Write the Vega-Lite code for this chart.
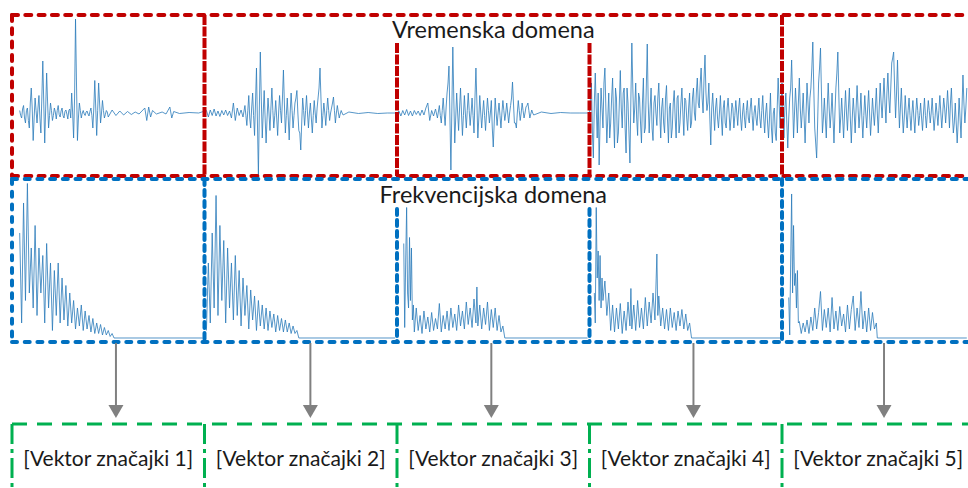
{
"$schema":"https://vega.github.io/schema/vega-lite/v6.json",
"width":968,"height":488,
"autosize":{"type":"fit","contains":"padding"},
"padding":0,
"background":"white",
"config":{"view":{"stroke":null}},
"datasets":{
"time":[
{"t":4,"a":0.05},{"t":5,"a":-0.1},{"t":6,"a":0.15},{"t":7,"a":-0.2},{"t":8,"a":0.1},{"t":9,"a":-0.3},{"t":10,"a":0.5},{"t":11,"a":-0.55},{"t":12,"a":0.3},{"t":13,"a":-0.2},{"t":14,"a":0.35},{"t":15,"a":-0.4},{"t":16,"a":1.04},{"t":17,"a":-0.6},{"t":18,"a":0.8},{"t":19,"a":-0.3},{"t":20,"a":0.2},{"t":21,"a":-0.15},{"t":22,"a":0.1},{"t":23,"a":-0.12},{"t":24,"a":0.15},{"t":25,"a":-0.08},{"t":26,"a":0.1},{"t":27,"a":-0.1},{"t":28,"a":0.06},{"t":29,"a":-0.12},{"t":30,"a":0.08},{"t":31,"a":0.4},{"t":32,"a":-0.5},{"t":33,"a":1.88},{"t":34,"a":-0.55},{"t":35,"a":0.2},{"t":36,"a":-0.1},{"t":37,"a":0.05},{"t":38,"a":-0.05},{"t":39,"a":0.04},{"t":40,"a":-0.06},{"t":41,"a":0.1},{"t":42,"a":-0.3},{"t":43,"a":0.65},{"t":44,"a":-0.45},{"t":45,"a":0.6},{"t":46,"a":-0.2},{"t":47,"a":0.25},{"t":48,"a":-0.1},{"t":49,"a":0.05},{"t":50,"a":-0.08},{"t":52,"a":0.06},{"t":54,"a":-0.05},{"t":56,"a":0.04},{"t":58,"a":-0.04},{"t":60,"a":0.03},{"t":62,"a":-0.03},{"t":64,"a":0.02},{"t":66,"a":-0.02},{"t":69,"a":0.1},{"t":70,"a":-0.15},{"t":71,"a":0.12},{"t":72,"a":-0.08},{"t":73,"a":0.05},{"t":75,"a":-0.02},{"t":78,"a":0.02},{"t":80,"a":-0.02},{"t":82,"a":0.12},{"t":83,"a":-0.1},{"t":84,"a":0.03},{"t":87,"a":-0.01},{"t":92,"a":0.01},{"t":97,"a":0},
{"t":4.5,"a":-0.05},{"t":5.5,"a":0.08},{"t":6.5,"a":-0.1},{"t":7.5,"a":0.05},{"t":8.5,"a":-0.15},{"t":9.5,"a":0.2},{"t":10.5,"a":0.1},{"t":11.5,"a":-0.1},{"t":12.5,"a":0.05},{"t":13.5,"a":0.1},{"t":14.5,"a":-0.1},{"t":15.5,"a":0.3},{"t":16.5,"a":0.2},{"t":17.5,"a":0.1},{"t":18.5,"a":0.2},{"t":19.5,"a":-0.05},{"t":20.5,"a":0.05},{"t":21.5,"a":-0.05},{"t":22.5,"a":0.02},{"t":23.5,"a":0.05},{"t":24.5,"a":-0.03},{"t":25.5,"a":0.04},{"t":26.5,"a":-0.05},{"t":27.5,"a":0.03},{"t":28.5,"a":-0.02},{"t":29.5,"a":0.05},{"t":30.5,"a":-0.1},{"t":31.5,"a":0},{"t":32.5,"a":0.3},{"t":33.5,"a":0.6},{"t":34.5,"a":-0.1},{"t":35.5,"a":0.05},{"t":36.5,"a":0},{"t":37.5,"a":-0.02},{"t":38.5,"a":0.02},{"t":39.5,"a":-0.02},{"t":40.5,"a":0.03},{"t":41.5,"a":-0.05},{"t":42.5,"a":0.1},{"t":43.5,"a":0.1},{"t":44.5,"a":0.05},{"t":45.5,"a":0.2},{"t":46.5,"a":0},{"t":47.5,"a":0.05},{"t":48.5,"a":-0.03},{"t":49.5,"a":0.02},
{"t":101,"a":0.05},{"t":102,"a":-0.08},{"t":103,"a":0.06},{"t":104,"a":-0.05},{"t":105,"a":0.08},{"t":106,"a":-0.06},{"t":107,"a":0.04},{"t":108,"a":-0.07},{"t":109,"a":0.05},{"t":110,"a":-0.04},{"t":111,"a":0.06},{"t":112,"a":-0.05},{"t":113,"a":0.04},{"t":114,"a":-0.1},{"t":115,"a":0.2},{"t":116,"a":-0.15},{"t":117,"a":0.1},{"t":118,"a":-0.05},{"t":119,"a":0.06},{"t":120,"a":-0.08},{"t":121,"a":0.15},{"t":122,"a":-0.25},{"t":123,"a":0.35},{"t":124,"a":-0.3},{"t":125,"a":0.4},{"t":126,"a":-0.45},{"t":127,"a":0.9},{"t":128,"a":-1.24},{"t":129,"a":1.22},{"t":130,"a":-0.5},{"t":131,"a":0.45},{"t":132,"a":-0.6},{"t":133,"a":0.3},{"t":134,"a":-0.35},{"t":135,"a":0.5},{"t":136,"a":-0.3},{"t":137,"a":0.25},{"t":138,"a":-0.45},{"t":139,"a":0.35},{"t":140,"a":-0.2},{"t":141,"a":0.86},{"t":142,"a":-0.4},{"t":143,"a":0.3},{"t":144,"a":-0.54},{"t":145,"a":0.4},{"t":146,"a":-0.3},{"t":147,"a":0.2},{"t":148,"a":0.45},{"t":149,"a":-0.35},{"t":150,"a":-0.74},{"t":151,"a":0.3},{"t":152,"a":-0.25},{"t":153,"a":0.35},{"t":154,"a":-0.3},{"t":155,"a":0.2},{"t":156,"a":-0.4},{"t":157,"a":0.25},{"t":158,"a":-0.2},{"t":159,"a":0.3},{"t":160,"a":0.9},{"t":161,"a":-0.3},{"t":162,"a":0.2},{"t":163,"a":-0.25},{"t":164,"a":0.3},{"t":165,"a":-0.15},{"t":166,"a":0.1},{"t":167,"a":0.32},{"t":168,"a":-0.2},{"t":169,"a":0.15},{"t":170,"a":-0.1},{"t":171,"a":0.05},{"t":172,"a":-0.04},{"t":175,"a":0.02},{"t":180,"a":-0.01},{"t":185,"a":0.01},{"t":190,"a":-0.01},{"t":195,"a":0},{"t":200,"a":0},
{"t":121.5,"a":-0.05},{"t":122.5,"a":0.05},{"t":123.5,"a":-0.1},{"t":124.5,"a":0.1},{"t":125.5,"a":-0.05},{"t":126.5,"a":0.2},{"t":127.5,"a":-0.2},{"t":128.5,"a":0.1},{"t":129.5,"a":0.3},{"t":130.5,"a":0},{"t":131.5,"a":-0.1},{"t":132.5,"a":-0.1},{"t":133.5,"a":0},{"t":134.5,"a":0.1},{"t":135.5,"a":0.05},{"t":136.5,"a":-0.05},{"t":137.5,"a":-0.1},{"t":138.5,"a":0},{"t":139.5,"a":0.05},{"t":140.5,"a":0.3},{"t":141.5,"a":0.2},{"t":142.5,"a":-0.05},{"t":143.5,"a":-0.1},{"t":144.5,"a":0},{"t":145.5,"a":0.05},{"t":146.5,"a":-0.05},{"t":147.5,"a":0.3},{"t":148.5,"a":0},{"t":149.5,"a":-0.4},{"t":150.5,"a":-0.2},{"t":151.5,"a":0.05},{"t":152.5,"a":0.05},{"t":153.5,"a":0},{"t":154.5,"a":0},{"t":155.5,"a":-0.1},{"t":156.5,"a":-0.05},{"t":157.5,"a":0},{"t":158.5,"a":0.1},{"t":159.5,"a":0.5},{"t":160.5,"a":0.3},{"t":161.5,"a":-0.05},{"t":162.5,"a":0},{"t":163.5,"a":0.05},{"t":164.5,"a":0.05},{"t":165.5,"a":0},{"t":166.5,"a":0.2},{"t":167.5,"a":0.05},{"t":168.5,"a":0},{"t":169.5,"a":0.02},{"t":170.5,"a":-0.02},{"t":171.5,"a":0},
{"t":201,"a":0.04},{"t":202,"a":-0.06},{"t":203,"a":0.05},{"t":204,"a":-0.04},{"t":205,"a":0.07},{"t":206,"a":-0.05},{"t":207,"a":0.04},{"t":208,"a":-0.06},{"t":209,"a":0.05},{"t":210,"a":-0.03},{"t":211,"a":0.04},{"t":212,"a":-0.05},{"t":213,"a":0.06},{"t":214,"a":-0.04},{"t":215,"a":0.1},{"t":216,"a":0.2},{"t":217,"a":-0.15},{"t":218,"a":0.05},{"t":219,"a":-0.06},{"t":220,"a":0.08},{"t":221,"a":-0.1},{"t":222,"a":0.15},{"t":223,"a":-0.2},{"t":224,"a":0.3},{"t":225,"a":-0.25},{"t":226,"a":0.4},{"t":227,"a":0.94},{"t":228,"a":-1.14},{"t":229,"a":1.32},{"t":230,"a":-0.6},{"t":231,"a":0.4},{"t":232,"a":-0.35},{"t":233,"a":0.5},{"t":234,"a":-0.45},{"t":235,"a":0.35},{"t":236,"a":-0.3},{"t":237,"a":0.4},{"t":238,"a":-0.25},{"t":239,"a":0.3},{"t":240,"a":-0.4},{"t":241,"a":0.9},{"t":242,"a":-0.5},{"t":243,"a":0.35},{"t":244,"a":-0.3},{"t":245,"a":0.25},{"t":246,"a":-0.35},{"t":247,"a":0.3},{"t":248,"a":-0.2},{"t":249,"a":0.25},{"t":250,"a":-0.68},{"t":251,"a":0.3},{"t":252,"a":-0.25},{"t":253,"a":0.2},{"t":254,"a":-0.3},{"t":255,"a":0.25},{"t":256,"a":-0.15},{"t":257,"a":0.2},{"t":258,"a":-0.2},{"t":259,"a":0.15},{"t":260,"a":0.62},{"t":261,"a":-0.2},{"t":262,"a":-0.3},{"t":263,"a":0.25},{"t":264,"a":-0.15},{"t":265,"a":0.2},{"t":266,"a":-0.1},{"t":267,"a":0.12},{"t":268,"a":0.2},{"t":269,"a":-0.1},{"t":270,"a":0.06},{"t":271,"a":-0.04},{"t":275,"a":0.02},{"t":280,"a":-0.01},{"t":285,"a":0.01},{"t":290,"a":0},{"t":295,"a":0},{"t":300,"a":0},
{"t":222.5,"a":-0.05},{"t":223.5,"a":0.05},{"t":224.5,"a":0},{"t":225.5,"a":0.1},{"t":226.5,"a":0.6},{"t":227.5,"a":-0.1},{"t":228.5,"a":0.1},{"t":229.5,"a":0.3},{"t":230.5,"a":-0.1},{"t":231.5,"a":0},{"t":232.5,"a":0.1},{"t":233.5,"a":0},{"t":234.5,"a":-0.05},{"t":235.5,"a":0},{"t":236.5,"a":0.05},{"t":237.5,"a":0.05},{"t":238.5,"a":0},{"t":239.5,"a":-0.05},{"t":240.5,"a":0.3},{"t":241.5,"a":0.2},{"t":242.5,"a":-0.1},{"t":243.5,"a":0},{"t":244.5,"a":0},{"t":245.5,"a":-0.05},{"t":246.5,"a":0},{"t":247.5,"a":0.05},{"t":248.5,"a":0},{"t":249.5,"a":-0.3},{"t":250.5,"a":-0.2},{"t":251.5,"a":0},{"t":252.5,"a":0},{"t":253.5,"a":-0.05},{"t":254.5,"a":0},{"t":255.5,"a":0.05},{"t":256.5,"a":0},{"t":257.5,"a":0},{"t":258.5,"a":0},{"t":259.5,"a":0.3},{"t":260.5,"a":0.2},{"t":261.5,"a":-0.2},{"t":262.5,"a":0},{"t":263.5,"a":0.05},{"t":264.5,"a":0},{"t":265.5,"a":0.05},{"t":266.5,"a":0},{"t":267.5,"a":0.15},{"t":268.5,"a":0.05},{"t":269.5,"a":-0.02},{"t":270.5,"a":0},
{"t":301,"a":0.6},{"t":302,"a":-0.9},{"t":303,"a":0.8},{"t":304,"a":-0.5},{"t":305,"a":-1.04},{"t":306,"a":0.5},{"t":307,"a":-0.3},{"t":308,"a":0.9},{"t":309,"a":-0.6},{"t":310,"a":0.4},{"t":311,"a":-0.2},{"t":312,"a":0.7},{"t":313,"a":-0.7},{"t":314,"a":0.3},{"t":315,"a":-0.4},{"t":316,"a":0.85},{"t":317,"a":-0.3},{"t":318,"a":0.5},{"t":319,"a":-0.8},{"t":320,"a":0.2},{"t":321,"a":-1.0},{"t":322,"a":1.4},{"t":323,"a":-0.2},{"t":324,"a":0.6},{"t":325,"a":-0.45},{"t":326,"a":0.3},{"t":327,"a":-0.6},{"t":328,"a":0.7},{"t":329,"a":-0.3},{"t":330,"a":1.38},{"t":331,"a":-0.4},{"t":332,"a":0.5},{"t":333,"a":-0.55},{"t":334,"a":0.35},{"t":335,"a":-0.25},{"t":336,"a":0.6},{"t":337,"a":-0.5},{"t":338,"a":0.3},{"t":339,"a":-0.4},{"t":340,"a":0.55},{"t":341,"a":-0.6},{"t":342,"a":0.2},{"t":343,"a":-0.3},{"t":344,"a":0.45},{"t":345,"a":-0.5},{"t":346,"a":0.35},{"t":347,"a":-0.2},{"t":348,"a":0.5},{"t":349,"a":-0.45},{"t":350,"a":0.25},{"t":351,"a":-0.35},{"t":352,"a":0.4},{"t":353,"a":-0.2},{"t":354,"a":0.5},{"t":355,"a":-0.15},{"t":356,"a":0.7},{"t":357,"a":0.1},{"t":358,"a":0.9},{"t":359,"a":0},{"t":360,"a":1.16},{"t":361,"a":0.05},{"t":362,"a":0.6},{"t":363,"a":-0.64},{"t":364,"a":0.4},{"t":365,"a":-0.35},{"t":366,"a":0.3},{"t":367,"a":-0.3},{"t":368,"a":0.35},{"t":369,"a":-0.45},{"t":370,"a":0.25},{"t":371,"a":-0.3},{"t":372,"a":0.3},{"t":373,"a":-0.35},{"t":374,"a":0.2},{"t":375,"a":-0.3},{"t":376,"a":0.25},{"t":377,"a":-0.25},{"t":378,"a":0.3},{"t":379,"a":-0.35},{"t":380,"a":0.2},{"t":381,"a":-0.3},{"t":382,"a":0.25},{"t":383,"a":-0.2},{"t":384,"a":0.3},{"t":385,"a":-0.35},{"t":386,"a":0.15},{"t":387,"a":-0.25},{"t":388,"a":0.3},{"t":389,"a":-0.3},{"t":390,"a":0.35},{"t":391,"a":-0.4},{"t":392,"a":0.2},{"t":393,"a":-0.5},{"t":394,"a":0.4},{"t":395,"a":-0.6},{"t":396,"a":0.1},{"t":397,"a":-0.55},{"t":398,"a":0.7},{"t":399,"a":-0.3},{"t":400,"a":0.6},
{"t":300.5,"a":0.3},{"t":301.5,"a":-0.4},{"t":302.5,"a":0.2},{"t":303.5,"a":0.1},{"t":304.5,"a":0.4},{"t":305.5,"a":-0.2},{"t":306.5,"a":0.1},{"t":307.5,"a":0.6},{"t":308.5,"a":0.1},{"t":309.5,"a":-0.1},{"t":310.5,"a":-0.5},{"t":311.5,"a":0.3},{"t":312.5,"a":-0.1},{"t":313.5,"a":0.5},{"t":314.5,"a":-0.6},{"t":315.5,"a":0.2},{"t":316.5,"a":0.1},{"t":317.5,"a":0.4},{"t":318.5,"a":-0.3},{"t":319.5,"a":0.5},{"t":320.5,"a":-0.4},{"t":321.5,"a":0.3},{"t":322.5,"a":0.5},{"t":323.5,"a":0.1},{"t":324.5,"a":-0.1},{"t":325.5,"a":0.4},{"t":326.5,"a":-0.2},{"t":327.5,"a":0.2},{"t":328.5,"a":-0.4},{"t":329.5,"a":0.5},{"t":330.5,"a":0.2},{"t":331.5,"a":0.1},{"t":332.5,"a":-0.3},{"t":333.5,"a":0.2},{"t":334.5,"a":0},{"t":335.5,"a":0.3},{"t":336.5,"a":0},{"t":337.5,"a":0.1},{"t":338.5,"a":-0.2},{"t":339.5,"a":0.3},{"t":340.5,"a":-0.1},{"t":341.5,"a":0.1},{"t":342.5,"a":-0.5},{"t":343.5,"a":0.2},{"t":344.5,"a":-0.1},{"t":345.5,"a":0.3},{"t":346.5,"a":-0.4},{"t":347.5,"a":0.2},{"t":348.5,"a":0},{"t":349.5,"a":0.3},{"t":350.5,"a":-0.1},{"t":351.5,"a":0.1},{"t":352.5,"a":-0.3},{"t":353.5,"a":0.3},{"t":354.5,"a":0},{"t":355.5,"a":0.4},{"t":356.5,"a":0.2},{"t":357.5,"a":0.6},{"t":358.5,"a":0.3},{"t":359.5,"a":0.7},{"t":360.5,"a":0.4},{"t":361.5,"a":0.2},{"t":362.5,"a":-0.1},{"t":363.5,"a":0.1},{"t":364.5,"a":0},{"t":365.5,"a":0.1},{"t":366.5,"a":-0.1},{"t":367.5,"a":0},{"t":368.5,"a":-0.1},{"t":369.5,"a":0.1},{"t":370.5,"a":-0.2},{"t":371.5,"a":0.1},{"t":372.5,"a":0},{"t":373.5,"a":-0.1},{"t":374.5,"a":0.1},{"t":375.5,"a":-0.05},{"t":376.5,"a":0},{"t":377.5,"a":0.1},{"t":378.5,"a":-0.1},{"t":379.5,"a":0},{"t":380.5,"a":-0.1},{"t":381.5,"a":0.05},{"t":382.5,"a":-0.1},{"t":383.5,"a":0.1},{"t":384.5,"a":-0.05},{"t":385.5,"a":0},{"t":386.5,"a":-0.1},{"t":387.5,"a":0.05},{"t":388.5,"a":-0.1},{"t":389.5,"a":0.05},{"t":390.5,"a":-0.1},{"t":391.5,"a":0},{"t":392.5,"a":-0.2},{"t":393.5,"a":-0.1},{"t":394.5,"a":-0.3},{"t":395.5,"a":0},{"t":396.5,"a":-0.4},{"t":397.5,"a":0.1},{"t":398.5,"a":0.2},{"t":399.5,"a":0.1},
{"t":401,"a":-0.5},{"t":402,"a":0.4},{"t":403,"a":-0.7},{"t":404,"a":0.3},{"t":405,"a":1.06},{"t":406,"a":-0.5},{"t":407,"a":0.5},{"t":408,"a":-0.4},{"t":409,"a":0.7},{"t":410,"a":-0.3},{"t":411,"a":0.4},{"t":412,"a":-0.6},{"t":413,"a":0.6},{"t":414,"a":-0.2},{"t":415,"a":0.5},{"t":416,"a":1.42},{"t":417,"a":-0.3},{"t":418,"a":-0.9},{"t":419,"a":0.6},{"t":420,"a":1.3},{"t":421,"a":-0.4},{"t":422,"a":0.3},{"t":423,"a":-0.5},{"t":424,"a":0.6},{"t":425,"a":-0.3},{"t":426,"a":0.4},{"t":427,"a":-0.6},{"t":428,"a":0.5},{"t":429,"a":1.22},{"t":430,"a":-0.4},{"t":431,"a":0.3},{"t":432,"a":-0.5},{"t":433,"a":0.45},{"t":434,"a":-0.35},{"t":435,"a":0.5},{"t":436,"a":-0.6},{"t":437,"a":0.3},{"t":438,"a":-0.4},{"t":439,"a":0.55},{"t":440,"a":-0.3},{"t":441,"a":0.4},{"t":442,"a":-0.5},{"t":443,"a":0.35},{"t":444,"a":-0.3},{"t":445,"a":0.45},{"t":446,"a":-0.45},{"t":447,"a":0.3},{"t":448,"a":-0.25},{"t":449,"a":0.5},{"t":450,"a":-0.4},{"t":451,"a":0.6},{"t":452,"a":-0.1},{"t":453,"a":0.7},{"t":454,"a":-0.2},{"t":455,"a":0.8},{"t":456,"a":0},{"t":457,"a":1.0},{"t":458,"a":1.22},{"t":459,"a":-0.1},{"t":460,"a":1.06},{"t":461,"a":-0.3},{"t":462,"a":0.5},{"t":463,"a":-0.4},{"t":464,"a":0.35},{"t":465,"a":-0.3},{"t":466,"a":0.3},{"t":467,"a":-0.35},{"t":468,"a":0.25},{"t":469,"a":-0.4},{"t":470,"a":0.3},{"t":471,"a":-0.25},{"t":472,"a":0.2},{"t":473,"a":-0.35},{"t":474,"a":0.3},{"t":475,"a":-0.3},{"t":476,"a":0.25},{"t":477,"a":-0.2},{"t":478,"a":0.3},{"t":479,"a":-0.35},{"t":480,"a":0.2},{"t":481,"a":-0.25},{"t":482,"a":0.35},{"t":483,"a":-0.3},{"t":484,"a":0.3},{"t":485,"a":-0.2},{"t":486,"a":0.45},{"t":487,"a":-0.3},{"t":488,"a":0.5},{"t":489,"a":-0.4},{"t":490,"a":0.2},{"t":491,"a":-0.6},{"t":492,"a":0.3},{"t":493,"a":-0.5},{"t":494,"a":0.76},{"t":495,"a":-0.2},{"t":496,"a":0.5},
{"t":400.5,"a":0},{"t":401.5,"a":0.1},{"t":402.5,"a":-0.2},{"t":403.5,"a":-0.1},{"t":404.5,"a":0.5},{"t":405.5,"a":0.3},{"t":406.5,"a":0},{"t":407.5,"a":0.1},{"t":408.5,"a":0.2},{"t":409.5,"a":0.1},{"t":410.5,"a":0},{"t":411.5,"a":-0.1},{"t":412.5,"a":0},{"t":413.5,"a":0.2},{"t":414.5,"a":0.3},{"t":415.5,"a":0.9},{"t":416.5,"a":0.5},{"t":417.5,"a":-0.6},{"t":418.5,"a":-0.2},{"t":419.5,"a":0.9},{"t":420.5,"a":0.4},{"t":421.5,"a":-0.1},{"t":422.5,"a":-0.1},{"t":423.5,"a":0.1},{"t":424.5,"a":0.1},{"t":425.5,"a":0},{"t":426.5,"a":-0.1},{"t":427.5,"a":0},{"t":428.5,"a":0.8},{"t":429.5,"a":0.4},{"t":430.5,"a":-0.1},{"t":431.5,"a":-0.1},{"t":432.5,"a":0},{"t":433.5,"a":0},{"t":434.5,"a":0.1},{"t":435.5,"a":-0.1},{"t":436.5,"a":-0.1},{"t":437.5,"a":0},{"t":438.5,"a":0.1},{"t":439.5,"a":0.1},{"t":440.5,"a":0},{"t":441.5,"a":-0.1},{"t":442.5,"a":-0.05},{"t":443.5,"a":0},{"t":444.5,"a":0.1},{"t":445.5,"a":0},{"t":446.5,"a":-0.1},{"t":447.5,"a":0},{"t":448.5,"a":0.1},{"t":449.5,"a":0},{"t":450.5,"a":0.1},{"t":451.5,"a":0.2},{"t":452.5,"a":0.3},{"t":453.5,"a":0.2},{"t":454.5,"a":0.4},{"t":455.5,"a":0.3},{"t":456.5,"a":0.5},{"t":457.5,"a":1.1},{"t":458.5,"a":0.5},{"t":459.5,"a":0.4},{"t":460.5,"a":0.3},{"t":461.5,"a":0.1},{"t":462.5,"a":0},{"t":463.5,"a":-0.1},{"t":464.5,"a":0},{"t":465.5,"a":0.05},{"t":466.5,"a":-0.05},{"t":467.5,"a":0},{"t":468.5,"a":-0.1},{"t":469.5,"a":0},{"t":470.5,"a":0.05},{"t":471.5,"a":-0.05},{"t":472.5,"a":-0.1},{"t":473.5,"a":0},{"t":474.5,"a":-0.05},{"t":475.5,"a":0},{"t":476.5,"a":0.05},{"t":477.5,"a":0},{"t":478.5,"a":-0.05},{"t":479.5,"a":-0.1},{"t":480.5,"a":0},{"t":481.5,"a":0.05},{"t":482.5,"a":0},{"t":483.5,"a":0},{"t":484.5,"a":0.1},{"t":485.5,"a":0.1},{"t":486.5,"a":0.1},{"t":487.5,"a":0.2},{"t":488.5,"a":0},{"t":489.5,"a":-0.2},{"t":490.5,"a":-0.2},{"t":491.5,"a":-0.2},{"t":492.5,"a":-0.1},{"t":493.5,"a":0.1},{"t":494.5,"a":0.2},{"t":495.5,"a":0.1}
],
"spec":[
{"s":1,"t":4,"m":0.7},{"s":1,"t":5,"m":0.1},{"s":1,"t":6,"m":0.9},{"s":1,"t":7,"m":0.25},{"s":1,"t":8,"m":1.03},{"s":1,"t":9,"m":0.3},{"s":1,"t":10,"m":0.6},{"s":1,"t":11,"m":0.2},{"s":1,"t":12,"m":0.75},{"s":1,"t":13,"m":0.15},{"s":1,"t":14,"m":0.6},{"s":1,"t":15,"m":0.3},{"s":1,"t":16,"m":0.55},{"s":1,"t":17,"m":0.1},{"s":1,"t":18,"m":0.63},{"s":1,"t":19,"m":0.2},{"s":1,"t":20,"m":0.5},{"s":1,"t":21,"m":0.05},{"s":1,"t":22,"m":0.45},{"s":1,"t":23,"m":0.15},{"s":1,"t":24,"m":0.5},{"s":1,"t":25,"m":0.1},{"s":1,"t":26,"m":0.4},{"s":1,"t":27,"m":0.12},{"s":1,"t":28,"m":0.35},{"s":1,"t":29,"m":0.08},{"s":1,"t":30,"m":0.3},{"s":1,"t":31,"m":0.1},{"s":1,"t":32,"m":0.25},{"s":1,"t":33,"m":0.06},{"s":1,"t":34,"m":0.2},{"s":1,"t":35,"m":0.08},{"s":1,"t":36,"m":0.22},{"s":1,"t":37,"m":0.05},{"s":1,"t":38,"m":0.18},{"s":1,"t":39,"m":0.06},{"s":1,"t":40,"m":0.15},{"s":1,"t":41,"m":0.04},{"s":1,"t":42,"m":0.13},{"s":1,"t":43,"m":0.03},{"s":1,"t":44,"m":0.1},{"s":1,"t":45,"m":0.03},{"s":1,"t":46,"m":0.09},{"s":1,"t":47,"m":0.02},{"s":1,"t":48,"m":0.07},{"s":1,"t":49,"m":0.02},{"s":1,"t":50,"m":0.05},{"s":1,"t":51,"m":0.01},{"s":1,"t":52,"m":0.03},{"s":1,"t":53,"m":0},{"s":1,"t":99,"m":0},
{"s":2,"t":101,"m":0.05},{"s":2,"t":102,"m":0.5},{"s":2,"t":103,"m":0.1},{"s":2,"t":104,"m":0.7},{"s":2,"t":105,"m":0.2},{"s":2,"t":106,"m":0.95},{"s":2,"t":107,"m":0.15},{"s":2,"t":108,"m":0.75},{"s":2,"t":109,"m":0.25},{"s":2,"t":110,"m":0.65},{"s":2,"t":111,"m":0.1},{"s":2,"t":112,"m":0.6},{"s":2,"t":113,"m":0.2},{"s":2,"t":114,"m":0.5},{"s":2,"t":115,"m":0.12},{"s":2,"t":116,"m":0.55},{"s":2,"t":117,"m":0.15},{"s":2,"t":118,"m":0.45},{"s":2,"t":119,"m":0.08},{"s":2,"t":120,"m":0.4},{"s":2,"t":121,"m":0.15},{"s":2,"t":122,"m":0.35},{"s":2,"t":123,"m":0.06},{"s":2,"t":124,"m":0.32},{"s":2,"t":125,"m":0.12},{"s":2,"t":126,"m":0.28},{"s":2,"t":127,"m":0.05},{"s":2,"t":128,"m":0.25},{"s":2,"t":129,"m":0.08},{"s":2,"t":130,"m":0.22},{"s":2,"t":131,"m":0.06},{"s":2,"t":132,"m":0.2},{"s":2,"t":133,"m":0.05},{"s":2,"t":134,"m":0.18},{"s":2,"t":135,"m":0.07},{"s":2,"t":136,"m":0.16},{"s":2,"t":137,"m":0.04},{"s":2,"t":138,"m":0.15},{"s":2,"t":139,"m":0.05},{"s":2,"t":140,"m":0.13},{"s":2,"t":141,"m":0.04},{"s":2,"t":142,"m":0.12},{"s":2,"t":143,"m":0.04},{"s":2,"t":144,"m":0.1},{"s":2,"t":145,"m":0.03},{"s":2,"t":146,"m":0.08},{"s":2,"t":147,"m":0.03},{"s":2,"t":148,"m":0.05},{"s":2,"t":149,"m":0},{"s":2,"t":199,"m":0},
{"s":3,"t":203.5,"m":0.63},{"s":3,"t":204,"m":0.07},{"s":3,"t":204.5,"m":0.5},{"s":3,"t":205,"m":0.87},{"s":3,"t":205.5,"m":0.3},{"s":3,"t":206,"m":0.2},{"s":3,"t":206.5,"m":0.67},{"s":3,"t":207,"m":0.25},{"s":3,"t":207.5,"m":0.6},{"s":3,"t":208,"m":0.12},{"s":3,"t":208.5,"m":0.22},{"s":3,"t":209,"m":0.04},{"s":3,"t":210,"m":0.2},{"s":3,"t":211,"m":0.05},{"s":3,"t":212,"m":0.15},{"s":3,"t":213,"m":0.03},{"s":3,"t":214,"m":0.18},{"s":3,"t":215,"m":0.06},{"s":3,"t":216,"m":0.14},{"s":3,"t":217,"m":0.04},{"s":3,"t":218,"m":0.17},{"s":3,"t":219,"m":0.05},{"s":3,"t":220,"m":0.13},{"s":3,"t":221,"m":0.06},{"s":3,"t":222,"m":0.23},{"s":3,"t":223,"m":0.04},{"s":3,"t":224,"m":0.15},{"s":3,"t":225,"m":0.06},{"s":3,"t":226,"m":0.18},{"s":3,"t":227,"m":0.05},{"s":3,"t":228,"m":0.2},{"s":3,"t":229,"m":0.07},{"s":3,"t":230,"m":0.16},{"s":3,"t":231,"m":0.05},{"s":3,"t":232,"m":0.22},{"s":3,"t":233,"m":0.08},{"s":3,"t":234,"m":0.18},{"s":3,"t":235,"m":0.06},{"s":3,"t":236,"m":0.24},{"s":3,"t":237,"m":0.09},{"s":3,"t":238,"m":0.2},{"s":3,"t":239,"m":0.07},{"s":3,"t":240,"m":0.26},{"s":3,"t":241,"m":0.1},{"s":3,"t":241.5,"m":0.34},{"s":3,"t":242,"m":0.08},{"s":3,"t":243,"m":0.22},{"s":3,"t":244,"m":0.06},{"s":3,"t":245,"m":0.2},{"s":3,"t":246,"m":0.09},{"s":3,"t":247,"m":0.24},{"s":3,"t":248,"m":0.05},{"s":3,"t":249,"m":0.19},{"s":3,"t":250,"m":0.07},{"s":3,"t":251,"m":0.2},{"s":3,"t":252,"m":0.05},{"s":3,"t":253,"m":0.15},{"s":3,"t":254,"m":0.04},{"s":3,"t":255,"m":0.08},{"s":3,"t":256,"m":0},{"s":3,"t":299,"m":0},
{"s":4,"t":302.5,"m":0.3},{"s":4,"t":303,"m":0.1},{"s":4,"t":303.5,"m":0.87},{"s":4,"t":304,"m":0.4},{"s":4,"t":304.5,"m":0.58},{"s":4,"t":305,"m":0.25},{"s":4,"t":305.5,"m":0.55},{"s":4,"t":306,"m":0.2},{"s":4,"t":306.5,"m":0.4},{"s":4,"t":307,"m":0.25},{"s":4,"t":308,"m":0.38},{"s":4,"t":309,"m":0.15},{"s":4,"t":310,"m":0.3},{"s":4,"t":311,"m":0.05},{"s":4,"t":312,"m":0.22},{"s":4,"t":313,"m":0.04},{"s":4,"t":314,"m":0.2},{"s":4,"t":315,"m":0.06},{"s":4,"t":316,"m":0.23},{"s":4,"t":317,"m":0.03},{"s":4,"t":318,"m":0.18},{"s":4,"t":319,"m":0.05},{"s":4,"t":320,"m":0.24},{"s":4,"t":321,"m":0.08},{"s":4,"t":321.5,"m":0.33},{"s":4,"t":322,"m":0.06},{"s":4,"t":323,"m":0.22},{"s":4,"t":324,"m":0.05},{"s":4,"t":325,"m":0.25},{"s":4,"t":326,"m":0.07},{"s":4,"t":327,"m":0.2},{"s":4,"t":328,"m":0.06},{"s":4,"t":329,"m":0.27},{"s":4,"t":330,"m":0.08},{"s":4,"t":331,"m":0.24},{"s":4,"t":332,"m":0.1},{"s":4,"t":333,"m":0.3},{"s":4,"t":334,"m":0.12},{"s":4,"t":335,"m":0.56},{"s":4,"t":335.5,"m":0.15},{"s":4,"t":336,"m":0.28},{"s":4,"t":337,"m":0.08},{"s":4,"t":338,"m":0.2},{"s":4,"t":339,"m":0.06},{"s":4,"t":340,"m":0.19},{"s":4,"t":341,"m":0.05},{"s":4,"t":342,"m":0.2},{"s":4,"t":343,"m":0.07},{"s":4,"t":344,"m":0.17},{"s":4,"t":345,"m":0.05},{"s":4,"t":346,"m":0.18},{"s":4,"t":347,"m":0.08},{"s":4,"t":348,"m":0.19},{"s":4,"t":349,"m":0.06},{"s":4,"t":350,"m":0.16},{"s":4,"t":351,"m":0.05},{"s":4,"t":352,"m":0.1},{"s":4,"t":353,"m":0},{"s":4,"t":399.5,"m":0},
{"s":5,"t":403.5,"m":0.27},{"s":5,"t":404,"m":0.02},{"s":5,"t":404.5,"m":0.5},{"s":5,"t":405,"m":0.96},{"s":5,"t":405.5,"m":0.3},{"s":5,"t":406,"m":0.75},{"s":5,"t":406.5,"m":0.35},{"s":5,"t":407,"m":0.43},{"s":5,"t":407.5,"m":0.2},{"s":5,"t":408,"m":0.45},{"s":5,"t":408.5,"m":0.1},{"s":5,"t":409,"m":0.11},{"s":5,"t":410,"m":0.03},{"s":5,"t":411,"m":0.1},{"s":5,"t":412,"m":0.04},{"s":5,"t":413,"m":0.12},{"s":5,"t":414,"m":0.03},{"s":5,"t":415,"m":0.14},{"s":5,"t":416,"m":0.05},{"s":5,"t":417,"m":0.2},{"s":5,"t":418,"m":0.06},{"s":5,"t":419,"m":0.17},{"s":5,"t":420,"m":0.31},{"s":5,"t":421,"m":0.05},{"s":5,"t":422,"m":0.19},{"s":5,"t":423,"m":0.07},{"s":5,"t":424,"m":0.2},{"s":5,"t":425,"m":0.04},{"s":5,"t":426,"m":0.27},{"s":5,"t":427,"m":0.06},{"s":5,"t":428,"m":0.18},{"s":5,"t":429,"m":0.05},{"s":5,"t":430,"m":0.21},{"s":5,"t":431,"m":0.08},{"s":5,"t":432,"m":0.16},{"s":5,"t":433,"m":0.04},{"s":5,"t":434,"m":0.22},{"s":5,"t":435,"m":0.06},{"s":5,"t":436,"m":0.19},{"s":5,"t":437,"m":0.28},{"s":5,"t":438,"m":0.05},{"s":5,"t":439,"m":0.2},{"s":5,"t":440,"m":0.07},{"s":5,"t":441,"m":0.31},{"s":5,"t":442,"m":0.06},{"s":5,"t":443,"m":0.18},{"s":5,"t":444,"m":0.04},{"s":5,"t":445,"m":0.2},{"s":5,"t":446,"m":0.05},{"s":5,"t":447,"m":0.17},{"s":5,"t":448,"m":0.06},{"s":5,"t":449,"m":0.1},{"s":5,"t":449.5,"m":0},{"s":5,"t":496,"m":0}
],
"lines":[
{"g":"red","t":0,"t2":496.6,"y":15,"y2":15},{"g":"red","t":0,"t2":496.6,"y":176,"y2":176},{"g":"red","t":0,"t2":0,"y":15,"y2":176},
{"g":"redi","t":100,"t2":100,"y":15,"y2":176},{"g":"redi","t":200,"t2":200,"y":43,"y2":176},{"g":"redi","t":300,"t2":300,"y":43,"y2":176},{"g":"redi","t":400,"t2":400,"y":15,"y2":176},
{"g":"blue","t":0,"t2":496.6,"y":179,"y2":179},{"g":"blue","t":0,"t2":496.6,"y":342,"y2":342},{"g":"blue","t":0,"t2":0,"y":179,"y2":342},
{"g":"bluei","t":100,"t2":100,"y":179,"y2":342},{"g":"bluei","t":200,"t2":200,"y":209,"y2":342},{"g":"bluei","t":300,"t2":300,"y":209,"y2":342},{"g":"bluei","t":400,"t2":400,"y":179,"y2":342},
{"g":"green","t":0,"t2":496.6,"y":424,"y2":424},
{"g":"greenv","t":0,"t2":0,"y":424,"y2":488},{"g":"greenv","t":100,"t2":100,"y":424,"y2":488},{"g":"greenv","t":200,"t2":200,"y":424,"y2":488},{"g":"greenv","t":300,"t2":300,"y":424,"y2":488},{"g":"greenv","t":400,"t2":400,"y":424,"y2":488}
],
"arrows":[
{"t":54,"y":343,"y2":406,"yh":411.5},{"t":155,"y":343,"y2":406,"yh":411.5},{"t":249,"y":343,"y2":406,"yh":411.5},{"t":354,"y":343,"y2":406,"yh":411.5},{"t":453,"y":343,"y2":406,"yh":411.5}
],
"labels":[
{"k":"title","t":250,"y":38,"label":"Vremenska domena"},
{"k":"title","t":250,"y":203,"label":"Frekvencijska domena"},
{"k":"vec","t":50,"y":466,"label":"[Vektor značajki 1]"},
{"k":"vec","t":150,"y":466,"label":"[Vektor značajki 2]"},
{"k":"vec","t":250,"y":466,"label":"[Vektor značajki 3]"},
{"k":"vec","t":350,"y":466,"label":"[Vektor značajki 4]"},
{"k":"vec","t":450,"y":466,"label":"[Vektor značajki 5]"}
]
},
"resolve":{"scale":{"y":"independent"}},
"layer":[
{"data":{"name":"time"},"mark":{"type":"line","stroke":"#2b7bba","strokeWidth":0.8,"clip":true},
 "encoding":{"x":{"field":"t","type":"quantitative","scale":{"domain":[-6.234,496.62],"nice":false,"zero":false},"axis":null},
 "y":{"field":"a","type":"quantitative","scale":{"domain":[-7.5,2.26],"nice":false,"zero":false},"axis":null}}},
{"data":{"name":"spec"},"mark":{"type":"line","stroke":"#2b7bba","strokeWidth":0.8,"clip":true},
 "encoding":{"x":{"field":"t","type":"quantitative","scale":{"domain":[-6.234,496.62],"nice":false,"zero":false},"axis":null},
 "y":{"field":"m","type":"quantitative","scale":{"domain":[-1,2.2533],"nice":false,"zero":false},"axis":null},
 "detail":{"field":"s","type":"nominal"}}},
{"data":{"name":"lines"},"transform":[{"filter":"datum.g=='red'"}],"mark":{"type":"rule","stroke":"#C00000","strokeWidth":4,"strokeDash":[6,7.3],"strokeCap":"round","clip":true},
 "encoding":{"x":{"field":"t","type":"quantitative","scale":{"domain":[-6.234,496.62],"nice":false,"zero":false},"axis":null},"x2":{"field":"t2"},
 "y":{"field":"y","type":"quantitative","scale":{"domain":[0,488],"reverse":true,"nice":false,"zero":false},"axis":null},"y2":{"field":"y2"}}},
{"data":{"name":"lines"},"transform":[{"filter":"datum.g=='redi'"}],"mark":{"type":"rule","stroke":"#C00000","strokeWidth":4,"strokeDash":[10,1.5],"clip":true},
 "encoding":{"x":{"field":"t","type":"quantitative","scale":{"domain":[-6.234,496.62],"nice":false,"zero":false},"axis":null},"x2":{"field":"t2"},
 "y":{"field":"y","type":"quantitative","scale":{"domain":[0,488],"reverse":true,"nice":false,"zero":false},"axis":null},"y2":{"field":"y2"}}},
{"data":{"name":"lines"},"transform":[{"filter":"datum.g=='blue'"}],"mark":{"type":"rule","stroke":"#0070C0","strokeWidth":4,"strokeDash":[5,7.7],"strokeCap":"round","clip":true},
 "encoding":{"x":{"field":"t","type":"quantitative","scale":{"domain":[-6.234,496.62],"nice":false,"zero":false},"axis":null},"x2":{"field":"t2"},
 "y":{"field":"y","type":"quantitative","scale":{"domain":[0,488],"reverse":true,"nice":false,"zero":false},"axis":null},"y2":{"field":"y2"}}},
{"data":{"name":"lines"},"transform":[{"filter":"datum.g=='bluei'"}],"mark":{"type":"rule","stroke":"#0070C0","strokeWidth":4,"strokeDash":[6,5],"strokeCap":"round","clip":true},
 "encoding":{"x":{"field":"t","type":"quantitative","scale":{"domain":[-6.234,496.62],"nice":false,"zero":false},"axis":null},"x2":{"field":"t2"},
 "y":{"field":"y","type":"quantitative","scale":{"domain":[0,488],"reverse":true,"nice":false,"zero":false},"axis":null},"y2":{"field":"y2"}}},
{"data":{"name":"lines"},"transform":[{"filter":"datum.g=='green'"}],"mark":{"type":"rule","stroke":"#00B050","strokeWidth":3,"strokeDash":[15,10],"clip":true},
 "encoding":{"x":{"field":"t","type":"quantitative","scale":{"domain":[-6.234,496.62],"nice":false,"zero":false},"axis":null},"x2":{"field":"t2"},
 "y":{"field":"y","type":"quantitative","scale":{"domain":[0,488],"reverse":true,"nice":false,"zero":false},"axis":null},"y2":{"field":"y2"}}},
{"data":{"name":"lines"},"transform":[{"filter":"datum.g=='greenv'"}],"mark":{"type":"rule","stroke":"#00B050","strokeWidth":3,"strokeDash":[20,5,4,5],"clip":true},
 "encoding":{"x":{"field":"t","type":"quantitative","scale":{"domain":[-6.234,496.62],"nice":false,"zero":false},"axis":null},"x2":{"field":"t2"},
 "y":{"field":"y","type":"quantitative","scale":{"domain":[0,488],"reverse":true,"nice":false,"zero":false},"axis":null},"y2":{"field":"y2"}}},
{"data":{"name":"arrows"},"mark":{"type":"rule","stroke":"#808080","strokeWidth":2,"clip":true},
 "encoding":{"x":{"field":"t","type":"quantitative","scale":{"domain":[-6.234,496.62],"nice":false,"zero":false},"axis":null},
 "y":{"field":"y","type":"quantitative","scale":{"domain":[0,488],"reverse":true,"nice":false,"zero":false},"axis":null},"y2":{"field":"y2"}}},
{"data":{"name":"arrows"},"mark":{"type":"point","shape":"triangle-down","filled":true,"color":"#808080","opacity":1,"size":225,"clip":true},
 "encoding":{"x":{"field":"t","type":"quantitative","scale":{"domain":[-6.234,496.62],"nice":false,"zero":false},"axis":null},
 "y":{"field":"yh","type":"quantitative","scale":{"domain":[0,488],"reverse":true,"nice":false,"zero":false},"axis":null}}},
{"data":{"name":"labels"},"transform":[{"filter":"datum.k=='title'"}],"mark":{"type":"text","font":"Lato","fontSize":23.5,"color":"#1a1a1a","align":"center","baseline":"alphabetic","clip":true},
 "encoding":{"x":{"field":"t","type":"quantitative","scale":{"domain":[-6.234,496.62],"nice":false,"zero":false},"axis":null},
 "y":{"field":"y","type":"quantitative","scale":{"domain":[0,488],"reverse":true,"nice":false,"zero":false},"axis":null},
 "text":{"field":"label","type":"nominal"}}},
{"data":{"name":"labels"},"transform":[{"filter":"datum.k=='vec'"}],"mark":{"type":"text","font":"Lato","fontSize":21,"color":"#1a1a1a","align":"center","baseline":"alphabetic","clip":true},
 "encoding":{"x":{"field":"t","type":"quantitative","scale":{"domain":[-6.234,496.62],"nice":false,"zero":false},"axis":null},
 "y":{"field":"y","type":"quantitative","scale":{"domain":[0,488],"reverse":true,"nice":false,"zero":false},"axis":null},
 "text":{"field":"label","type":"nominal"}}}
]
}
